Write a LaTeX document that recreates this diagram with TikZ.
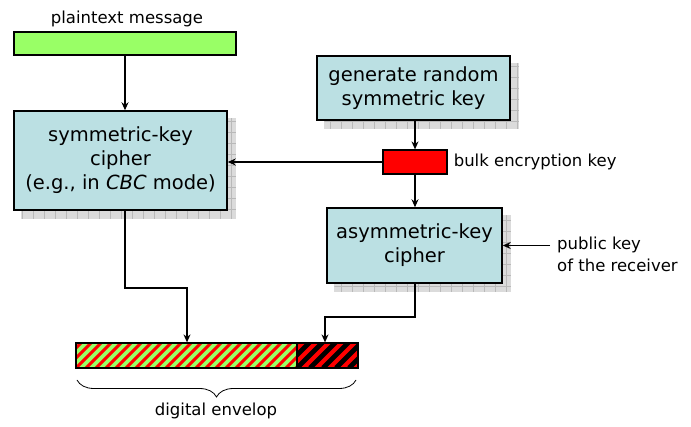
\documentclass[tikz,border=0pt]{standalone}
\usepackage{fontspec}
\setmainfont{DejaVu Sans}
\usetikzlibrary{arrows.meta,backgrounds,decorations.pathreplacing}
\definecolor{boxblue}{RGB}{187,224,227}
\definecolor{lgreen}{RGB}{153,255,102}
\tikzset{
  box/.style={draw=black, line width=1.5pt, fill=boxblue, align=center,
    font=\fontsize{19.5}{24}\selectfont, inner sep=0pt},
  lbl/.style={font=\fontsize{16.5}{22}\selectfont, inner sep=0pt},
  arr/.style={line width=1.3pt, -{Stealth[length=8pt,width=7pt]}},
  bar/.style={draw=black, line width=1.2pt, inner sep=0pt, minimum height=25pt},
  shadowfill/.style={fill=gray!28, path picture={
    \draw[gray!55, line width=0.5pt, step=11pt] (path picture bounding box.south west) grid (path picture bounding box.north east);}},
}
\newcommand\shadowof[1]{%
  \begin{scope}[on background layer]
    \path[shadowfill] ([shift={(8,8)}]#1.south west) rectangle ([shift={(8,8)}]#1.north east);
  \end{scope}}
\begin{document}
\begin{tikzpicture}[x=1pt,y=-1pt]
\useasboundingbox (0,0) rectangle (691,427);
% plaintext
\node[lbl] (ptl) at (127,19) {plaintext message};
\node[bar, fill=lgreen, minimum width=222pt, minimum height=23pt] (plain) at (125,43.5) {};
% boxes
\node[box, minimum width=213pt, minimum height=99pt] (sym) at (120.5,160.5)
  {symmetric-key\\cipher\\(e.g., in \textit{CBC} mode)};
\shadowof{sym}
\node[box, minimum width=193pt, minimum height=64pt] (gen) at (413.5,88)
  {generate random\\symmetric key};
\shadowof{gen}
\node[box, minimum width=175pt, minimum height=75pt] (asym) at (414.5,245.5)
  {asymmetric-key\\cipher};
\shadowof{asym}
\node[bar, fill=red, minimum width=64pt, minimum height=24pt] (key) at (415,162) {};
\node[lbl, anchor=west] (keyl) at ([xshift=6pt]key.east) {bulk encryption key};
% public key
\coordinate (pk) at (550,245.5);
\node[lbl, anchor=west, align=left] (pkl) at (557,254) {public key\\of the receiver};
% envelope
\node[bar, fill=lgreen, minimum width=221pt,
  path picture={\foreach \k in {-4,...,26}
    \draw[red, line width=3pt] ([xshift=\k*10pt]path picture bounding box.south west) -- ++(40pt,40pt);}]
  (envg) at (186.5,355.5) {};
\node[bar, fill=red, minimum width=61pt,
  path picture={\foreach \k in {-4,...,6}
    \draw[black, line width=4.6pt] ([xshift=\k*13pt]path picture bounding box.south west) -- ++(40pt,40pt);}]
  (envr) at (327.5,355.5) {};
\node[bar, minimum width=221pt] at (envg) {};
\node[bar, minimum width=61pt] at (envr) {};
\coordinate (bl) at (77,380);
\coordinate (br) at (356,380);
\draw[line width=0.8pt, decorate, decoration={brace, mirror, amplitude=17pt}] (bl) -- (br);
\node[lbl] (envl) at (216,411) {digital envelop};
% connectors
\draw[arr] (plain.south) -- (plain.south |- sym.north);
\draw[arr] (gen.south -| key.north) -- (key.north);
\draw[arr] (key.west) -- (key.west -| sym.east);
\draw[arr] (key.south) -- (key.south |- asym.north);
\draw[arr] (pk) -- (asym.east);
\draw[arr] (plain.south |- sym.south) -- (125,288) -- (187,288) -- (187,288 |- envg.north);
\draw[arr] (key.south |- asym.south) -- (415,317) -- (325,317) -- (325,317 |- envr.north);
\end{tikzpicture}
\end{document}
